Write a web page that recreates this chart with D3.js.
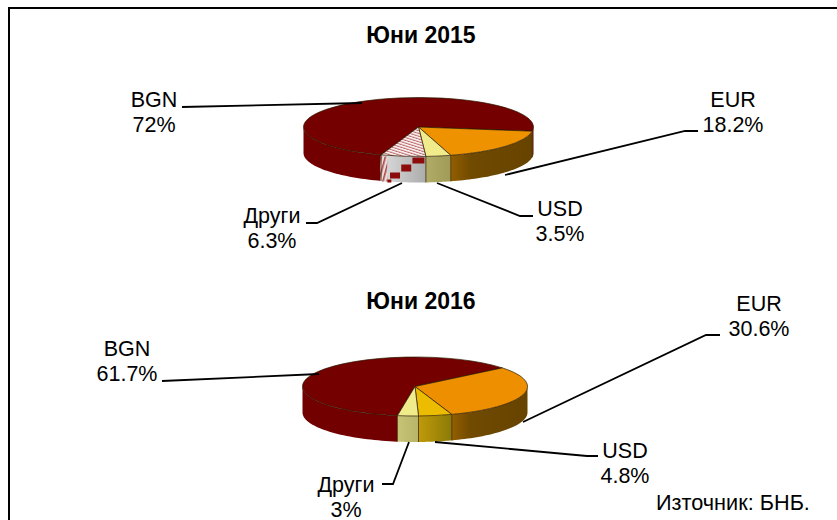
<!DOCTYPE html>
<html><head><meta charset="utf-8">
<script src="https://cdnjs.cloudflare.com/ajax/libs/d3/7.8.5/d3.min.js"></script>
<style>html,body{margin:0;padding:0;background:#fff}svg{display:block}text{font-family:"Liberation Sans",Arial,sans-serif;fill:#000}</style>
</head><body><svg id="c" width="837" height="520"></svg>
<script>
const categories = ["BGN","EUR","USD","Други"];
const titles = ["Юни 2015","Юни 2016"];
const values2015 = [72,18.2,3.5,6.3];
const values2016 = [61.7,30.6,4.8,3];
const valueLabels2015 = ["72%","18.2%","3.5%","6.3%"];
const valueLabels2016 = ["61.7%","30.6%","4.8%","3%"];
const sourceNote = "Източник: БНБ.";

const svg = d3.select("#c");
const defs = svg.append("defs");
const TAU = Math.PI*2, rad = d => d*Math.PI/180;

const hatch = defs.append("pattern").attr("id","hatch").attr("patternUnits","userSpaceOnUse")
  .attr("width",5).attr("height",5).attr("patternTransform","rotate(-35)");
hatch.append("rect").attr("width",5).attr("height",5).attr("fill","#f8eeee");
hatch.append("rect").attr("width",5).attr("height",1.8).attr("fill","#bb6a6a");
const hatchV = defs.append("pattern").attr("id","hatchV").attr("patternUnits","userSpaceOnUse")
  .attr("width",4).attr("height",5).attr("patternTransform","rotate(15)");
hatchV.append("rect").attr("width",4).attr("height",5).attr("fill","#eedddd");
hatchV.append("rect").attr("width",1.6).attr("height",5).attr("fill","#a84848");

function grad(id, stops, x0, x1){
  const g = defs.append("linearGradient").attr("id",id).attr("gradientUnits","userSpaceOnUse")
    .attr("x1",x0).attr("x2",x1).attr("y1",0).attr("y2",0);
  stops.forEach(([o,c])=>g.append("stop").attr("offset",o).attr("stop-color",c));
  return `url(#${id})`;
}

const pies = [
 {values:values2015,labels:valueLabels2015,title:titles[0],titleX:421,titleY:43,cx:418.5,cy:127,rx:115,ry:29.5,depth:26,start:199,
  top:["#750000","#ee9200",'#f0ec8c','url(#hatch)'],
  side:(i)=>[["#720000"],[[0,"#935e00"],[.25,"#704a00"],[1,"#664300"]],[[0,"#b0ac68"],[1,"#a09c58"]],[[0,"#dcdcdc"],[1,"#acacac"]]][i],
  leaders:[[[182,107],[362,103]],[[505,175],[685,131],[698,131]],[[437,183],[520,216],[533,216]],[[402,183],[317,223],[306,223]]],
  text:[[154,107],[733,107],[560,216],[272,223]]},
 {values:values2016,labels:valueLabels2016,title:titles[1],titleX:421,titleY:309,cx:415,cy:386.5,rx:112.5,ry:29.5,depth:26,start:189,
  top:["#750000","#ee8f00","#ecbc00","#f0ec8c"],
  side:(i)=>[["#720000"],[[0,"#935e00"],[.25,"#704a00"],[1,"#664300"]],[[0,"#c09a08"],[1,"#8c7a08"]],[[0,"#c8c476"],[1,"#b8b468"]]][i],
  leaders:[[[162,381],[319,374]],[[523,422],[706,335],[720,335]],[[435,442],[587,456],[598,456]],[[409,442],[393,484],[382,484]]],
  text:[[127,356],[759,311],[625,458],[346,492]]}
];

// frame: only left and top edges fall inside the picture
svg.append("path").attr("d","M9,520V8H837").attr("fill","none").attr("stroke","#000").attr("stroke-width",2);

pies.forEach((p,pi)=>{
  const pie = d3.pie().sort(null).value(d=>d).startAngle(rad(p.start)).endAngle(rad(p.start)+TAU);
  const arcs = pie(p.values);
  const sx = d3.scaleLinear().domain([-1,1]).range([p.cx-p.rx,p.cx+p.rx]);
  const sy = d3.scaleLinear().domain([-1,1]).range([p.cy-p.ry,p.cy+p.ry]);
  const X = a=>sx(Math.sin(a)), Y = a=>sy(-Math.cos(a));
  const g = svg.append("g");

  const line = d3.line();
  const sideParts=[];
  arcs.forEach((a,i)=>{
    for(const k of [0,1]){
      const lo=Math.max(a.startAngle,Math.PI/2+k*TAU), hi=Math.min(a.endAngle,Math.PI*1.5+k*TAU);
      if(hi>lo) sideParts.push({i,lo,hi});
    }
  });
  sideParts.forEach((s,j)=>{
    const n=40, ang=d3.range(n+1).map(t=>s.lo+(s.hi-s.lo)*t/n);
    const topPts=ang.map(t=>[X(t),Y(t)]);
    const botPts=ang.map(t=>[X(t),Y(t)+p.depth]).reverse();
    const stops=p.side(s.i);
    let fill;
    if(stops.length===1) fill=stops[0];
    else { const xs=[X(s.lo),X(s.hi)]; fill=grad(`g${pi}_${j}`,stops,d3.min(xs),d3.max(xs)); }
    g.append("path").attr("d",line([...topPts,...botPts])+"Z").attr("fill",fill);
    if(pi===0 && s.i===3){
      const x0=Math.min(X(s.lo),X(s.hi)), w=Math.abs(X(s.lo)-X(s.hi)), yT=Y(Math.PI);
      g.append("rect").attr("x",x0-1).attr("y",yT).attr("width",w*.16).attr("height",p.depth-1).attr("fill","url(#hatchV)");
      [[.70,1,12,6],[.45,8,10,7],[.20,16,10,6],[.14,23,4,3]].forEach(([fx,dy,rw,rh])=>{
        g.append("rect").attr("x",x0+fx*w).attr("y",yT+dy).attr("width",rw).attr("height",rh).attr("fill","#8c0c0c");
      });
    }
  });
  // slice boundaries on the wall
  arcs.forEach(a=>{
    let t=a.startAngle%TAU;
    if(t>Math.PI/2 && t<Math.PI*1.5 && a.index!==0 || a.index===0){
      if(t>Math.PI/2 && t<Math.PI*1.5)
        g.append("line").attr("x1",X(t)).attr("x2",X(t)).attr("y1",Y(t)).attr("y2",Y(t)+p.depth)
          .attr("stroke","#3a2a00").attr("stroke-width",.8);
    }
  });
  const arc = d3.arc().innerRadius(0).outerRadius(p.rx);
  const tg = g.append("g").attr("transform",`translate(${p.cx},${p.cy}) scale(1,${p.ry/p.rx})`);
  tg.selectAll("path").data(arcs).join("path").attr("d",arc)
    .attr("fill",(d,i)=>p.top[i]).attr("stroke","#2a1a00").attr("stroke-width",.7)
    .attr("vector-effect","non-scaling-stroke");

  const ll=d3.line();
  p.leaders.forEach(l=>svg.append("path").attr("d",ll(l)).attr("fill","none").attr("stroke","#000").attr("stroke-width",1.8));

  svg.append("text").attr("x",p.titleX).attr("y",p.titleY).attr("text-anchor","middle")
    .attr("font-size",23).attr("font-weight","bold").text(p.title);
  categories.forEach((c,i)=>{
    const [x,y]=p.text[i];
    const t=svg.append("text").attr("text-anchor","middle").attr("font-size",21.5);
    t.append("tspan").attr("x",x).attr("y",y).text(c);
    t.append("tspan").attr("x",x).attr("y",y+24.5).text(p.labels[i]);
  });
});
svg.append("text").attr("x",656).attr("y",510).attr("font-size",21.7).text(sourceNote);
</script></body></html>
